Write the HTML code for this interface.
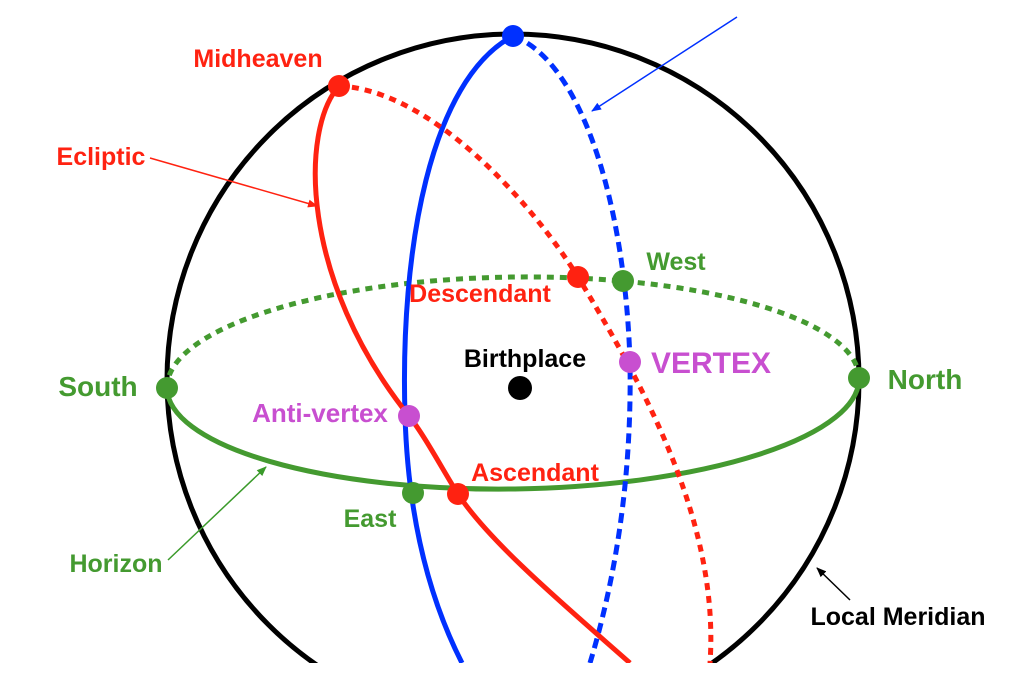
<!DOCTYPE html>
<html><head><style>html,body{margin:0;padding:0;background:#fff}svg{display:block}text{font-family:"Liberation Sans",sans-serif;font-weight:bold}</style></head>
<body>
<svg width="1024" height="694" viewBox="0 0 1024 694" xmlns="http://www.w3.org/2000/svg">
<defs>
<clipPath id="c"><rect x="0" y="0" width="1024" height="663"/></clipPath>
<marker id="ar" markerWidth="10" markerHeight="8" refX="9" refY="4" orient="auto" markerUnits="userSpaceOnUse"><path d="M0,0 L10,4 L0,8 z" fill="#f21"/></marker>
<marker id="ab" markerWidth="10" markerHeight="8" refX="9" refY="4" orient="auto" markerUnits="userSpaceOnUse"><path d="M0,0 L10,4 L0,8 z" fill="#0030ff"/></marker>
<marker id="ag" markerWidth="10" markerHeight="8" refX="9" refY="4" orient="auto" markerUnits="userSpaceOnUse"><path d="M0,0 L10,4 L0,8 z" fill="#3a9a2a"/></marker>
<marker id="ak" markerWidth="10" markerHeight="8" refX="9" refY="4" orient="auto" markerUnits="userSpaceOnUse"><path d="M0,0 L10,4 L0,8 z" fill="#000"/></marker>
</defs>
<g clip-path="url(#c)" fill="none">
<circle cx="513" cy="380" r="346" stroke="#000" stroke-width="5"/>
<path d="M167,388 A346,106 -0.8 0 1 859,378" stroke="#449a30" stroke-width="5" stroke-dasharray="7,6"/>
<path d="M167,388 A346,106 -0.8 0 0 859,378" stroke="#449a30" stroke-width="5"/>
<path d="M513,36 C430,80 400,250 405,415 C408,520 430,600 462,663" stroke="#0030ff" stroke-width="5"/>
<path d="M513,36 C580,60 625,200 630,362 C632,480 615,580 590,663" stroke="#0030ff" stroke-width="5" stroke-dasharray="10,6"/>
<path d="M339,86 C300,130 300,280 409,416 C425,436 445,474 458,494 C490,543 570,610 630,663" stroke="#f21" stroke-width="5"/>
<path d="M339,86 C430,90 530,200 578,277 C640,380 720,520 710,663" stroke="#f21" stroke-width="5" stroke-dasharray="7,6"/>
</g>
<g stroke-width="1.5">
<line x1="150" y1="158" x2="317" y2="206" stroke="#f21" marker-end="url(#ar)"/>
<line x1="737" y1="17" x2="592" y2="111" stroke="#0030ff" marker-end="url(#ab)"/>
<line x1="168" y1="560" x2="266" y2="467" stroke="#3a9a2a" marker-end="url(#ag)"/>
<line x1="850" y1="600" x2="817" y2="568" stroke="#000" marker-end="url(#ak)"/>
</g>
<circle cx="513" cy="36" r="11" fill="#0030ff"/>
<circle cx="339" cy="86" r="11" fill="#f21"/>
<circle cx="578" cy="277" r="11" fill="#f21"/>
<circle cx="623" cy="281" r="11" fill="#449a30"/>
<circle cx="630" cy="362" r="11" fill="#c84fd0"/>
<circle cx="167" cy="388" r="11" fill="#449a30"/>
<circle cx="859" cy="378" r="11" fill="#449a30"/>
<circle cx="409" cy="416" r="11" fill="#c84fd0"/>
<circle cx="413" cy="493" r="11" fill="#449a30"/>
<circle cx="458" cy="494" r="11" fill="#f21"/>
<circle cx="520" cy="388" r="12" fill="#000"/>
<text x="258" y="67" fill="#f21" font-size="25" text-anchor="middle">Midheaven</text>
<text x="101" y="165" fill="#f21" font-size="25" text-anchor="middle">Ecliptic</text>
<text x="480" y="302" fill="#f21" font-size="25" text-anchor="middle">Descendant</text>
<text x="676" y="270" fill="#449a30" font-size="25" text-anchor="middle">West</text>
<text x="525" y="367" fill="#000" font-size="25" text-anchor="middle">Birthplace</text>
<text x="711" y="373" fill="#c84fd0" font-size="30" text-anchor="middle">VERTEX</text>
<text x="98" y="396" fill="#449a30" font-size="28" text-anchor="middle">South</text>
<text x="925" y="389" fill="#449a30" font-size="28" text-anchor="middle">North</text>
<text x="320" y="422" fill="#c84fd0" font-size="26" text-anchor="middle">Anti-vertex</text>
<text x="535" y="481" fill="#f21" font-size="25" text-anchor="middle">Ascendant</text>
<text x="370" y="527" fill="#449a30" font-size="25" text-anchor="middle">East</text>
<text x="116" y="572" fill="#449a30" font-size="25" text-anchor="middle">Horizon</text>
<text x="898" y="625" fill="#000" font-size="25" text-anchor="middle">Local Meridian</text>
</svg>
</body></html>
